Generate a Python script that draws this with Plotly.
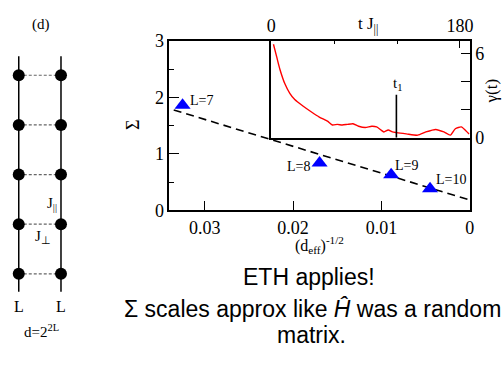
import plotly.graph_objects as go

# ---- main panel data ----
sys_labels = ["L=7", "L=8", "L=9", "L=10"]
deff_inv_sqrt = [0.0325, 0.0170, 0.0089, 0.0045]
sigma_vals = [1.86, 0.84, 0.63, 0.385]
fit_x = [0.0335, 0.0]
fit_y = [1.776, 0.184]

# ---- inset data ----
t_vals = [2.2, 5.3, 8.4, 13.1, 17.8, 22.5, 30.3, 38.1, 45.9, 53.7, 58.4, 63.1, 67.8, 72.5,
          78.1, 83.4, 89.7, 95.9, 100.6, 104.4, 107.5, 111.6, 115.6, 119.4, 128.8, 139.7,
          147.5, 156.9, 164.7, 170.9, 175.6, 181.3, 185.6, 188.7]
gamma_vals = [6.70, 5.79, 4.89, 3.86, 3.18, 2.73, 2.27, 1.86, 1.48, 1.18, 0.91, 0.95, 0.91, 0.95,
              1.00, 0.82, 0.73, 0.82, 0.77, 0.57, 0.41, 0.55, 0.41, 0.36, 0.27, 0.18,
              0.41, 0.59, 0.41, 0.18, 0.64, 0.77, 0.50, 0.27]
t1_val = 119.4
t1_height = 3.07

# ---- ladder diagram data ----
legs = [0, 1]
rungs = [0, 1, 2, 3, 4]
leg_extent = [-0.36, 4.38]

W, H = 502, 368
serif = "Liberation Serif, Times New Roman, serif"

fig = go.Figure()

for lg in legs:
    fig.add_trace(go.Scatter(x=[lg, lg], y=leg_extent, mode="lines",
                             line=dict(color="black", width=1.5),
                             xaxis="x3", yaxis="y3", showlegend=False, hoverinfo="skip"))
for r in rungs:
    fig.add_trace(go.Scatter(x=legs, y=[r, r], mode="lines",
                             line=dict(color="#666666", width=1.2, dash="3px,2px"),
                             xaxis="x3", yaxis="y3", showlegend=False, hoverinfo="skip"))
fig.add_trace(go.Scatter(x=[lg for r in rungs for lg in legs],
                         y=[r for r in rungs for lg in legs], mode="markers",
                         marker=dict(color="black", size=12),
                         xaxis="x3", yaxis="y3", showlegend=False, hoverinfo="skip"))

fig.add_trace(go.Scatter(x=fit_x, y=fit_y, mode="lines",
                         line=dict(color="black", width=1.6, dash="8px,5px"),
                         showlegend=False, hoverinfo="skip"))
fig.add_trace(go.Scatter(x=deff_inv_sqrt, y=sigma_vals, mode="markers",
                         marker=dict(symbol="triangle-up", size=14, color="#0000ff"),
                         showlegend=False))

fig.add_trace(go.Scatter(x=t_vals, y=gamma_vals, mode="lines",
                         line=dict(color="#ff0000", width=1.4, shape="spline", smoothing=0.6),
                         xaxis="x2", yaxis="y2", showlegend=False))
fig.add_trace(go.Scatter(x=[t1_val, t1_val], y=[0, t1_height], mode="lines",
                         line=dict(color="black", width=1.6),
                         xaxis="x2", yaxis="y2", showlegend=False))

tickfont = dict(family=serif, size=18, color="black")

main_x_dom = [167.3 / W, 473.3 / W]
main_y_dom = [1 - 212 / H, 1 - 32.5 / H]
inset_x_dom = [271 / W, 473.3 / W]
inset_y_dom = [1 - 135 / H, 1 - 32.5 / H]

fig.update_layout(
    width=W, height=H, margin=dict(l=0, r=0, t=0, b=0),
    font=dict(family=serif, color="black"),
    paper_bgcolor="white", plot_bgcolor="rgba(0,0,0,0)",
    xaxis=dict(domain=main_x_dom, range=[0.034, 0], anchor="y",
               tickvals=[0.03, 0.02, 0.01, 0], ticktext=["0.03", "0.02", "0.01", "0"],
               ticks="inside", ticklen=10, tickwidth=1.3, tickcolor="black",
               showline=True, linecolor="black", linewidth=1.5, mirror=True,
               showgrid=False, zeroline=False, tickfont=tickfont),
    yaxis=dict(domain=main_y_dom, range=[0, 3], anchor="x",
               tickvals=[0, 1, 2, 3],
               ticks="inside", ticklen=10, tickwidth=1.3, tickcolor="black",
               minor=dict(dtick=0.5, ticks="inside", ticklen=5, tickcolor="black", tickwidth=1.3),
               showline=True, linecolor="black", linewidth=1.5, mirror=True,
               showgrid=False, zeroline=False, tickfont=tickfont),
    xaxis2=dict(domain=inset_x_dom, range=[0, 189.4], anchor="y2", side="top",
                tick0=0, dtick=180,
                ticks="inside", ticklen=8, tickwidth=1.3, tickcolor="black",
                minor=dict(dtick=60, ticks="inside", ticklen=4, tickcolor="black", tickwidth=1.3),
                showline=True, linecolor="black", linewidth=1.5, mirror=True,
                showgrid=False, zeroline=False, tickfont=tickfont),
    yaxis2=dict(domain=inset_y_dom, range=[0, 6.95], anchor="x2", side="right",
                tick0=0, dtick=6,
                ticks="inside", ticklen=9, tickwidth=1.3, tickcolor="black",
                minor=dict(dtick=2, ticks="inside", ticklen=9, tickcolor="black", tickwidth=1.3),
                showline=True, linecolor="black", linewidth=1.5, mirror=True,
                showgrid=False, zeroline=False, tickfont=tickfont),
    xaxis3=dict(domain=[0, 100.4 / W], range=[-0.3256, 2.009], anchor="y3",
                visible=False, fixedrange=True),
    yaxis3=dict(domain=[0, 1], range=[-1.695, 5.314], anchor="x3",
                visible=False, fixedrange=True),
)

ann = []


def add(text, x, y, xref="paper", yref="paper", size=17, family=serif, xanchor="center",
        yanchor="middle", **kw):
    ann.append(dict(x=x, y=y, xref=xref, yref=yref, text=text, showarrow=False,
                    xanchor=xanchor, yanchor=yanchor,
                    font=dict(family=family, size=size, color="black"), **kw))


shifts = [("left", 5, 5), ("right", -8, -4), ("left", 2, 9), ("left", 4, 9)]
for lab, xv, yv, (xa, xs, ys) in zip(sys_labels, deff_inv_sqrt, sigma_vals, shifts):
    add(lab, xv, yv, xref="x", yref="y", size=14, xanchor=xa, xshift=xs, yshift=ys)

add("Σ", 131 / W, 1 - 122 / H, size=18, textangle=-90)
add("(d<sub>eff</sub>)<sup>-1/2</sup>", 320 / W, 1 - 249 / H, size=16)
add("t J<sub>||</sub>", 370 / W, 1 - 16 / H, size=17)
add("γ(t)", 495 / W, 1 - 86 / H, size=17, textangle=-90)
add("t<sub>1</sub>", t1_val, t1_height, xref="x2", yref="y2", size=15, yanchor="bottom", xshift=1)

add("(d)", 0.535, 5.02, xref="x3", yref="y3", size=15)
for lg in legs:
    add("L", lg, -0.65, xref="x3", yref="y3", size=16)
add("d=2<sup>2L</sup>", 0.535, -1.16, xref="x3", yref="y3", size=15)
add("J<sub>||</sub>", 0.79, 1.41, xref="x3", yref="y3", size=15)
add("J<sub>⊥</sub>", 0.58, 0.74, xref="x3", yref="y3", size=15)

sans = "Liberation Sans, Arial, sans-serif"
add("ETH applies!", 310 / W, 1 - 282 / H, size=23, family=sans)
add("Σ scales approx like <i>Ĥ</i> was a random", 313 / W, 1 - 316 / H, size=23, family=sans)
add("matrix.", 312 / W, 1 - 344 / H, size=23, family=sans)

fig.update_layout(annotations=ann)

fig.write_html("out.html")
